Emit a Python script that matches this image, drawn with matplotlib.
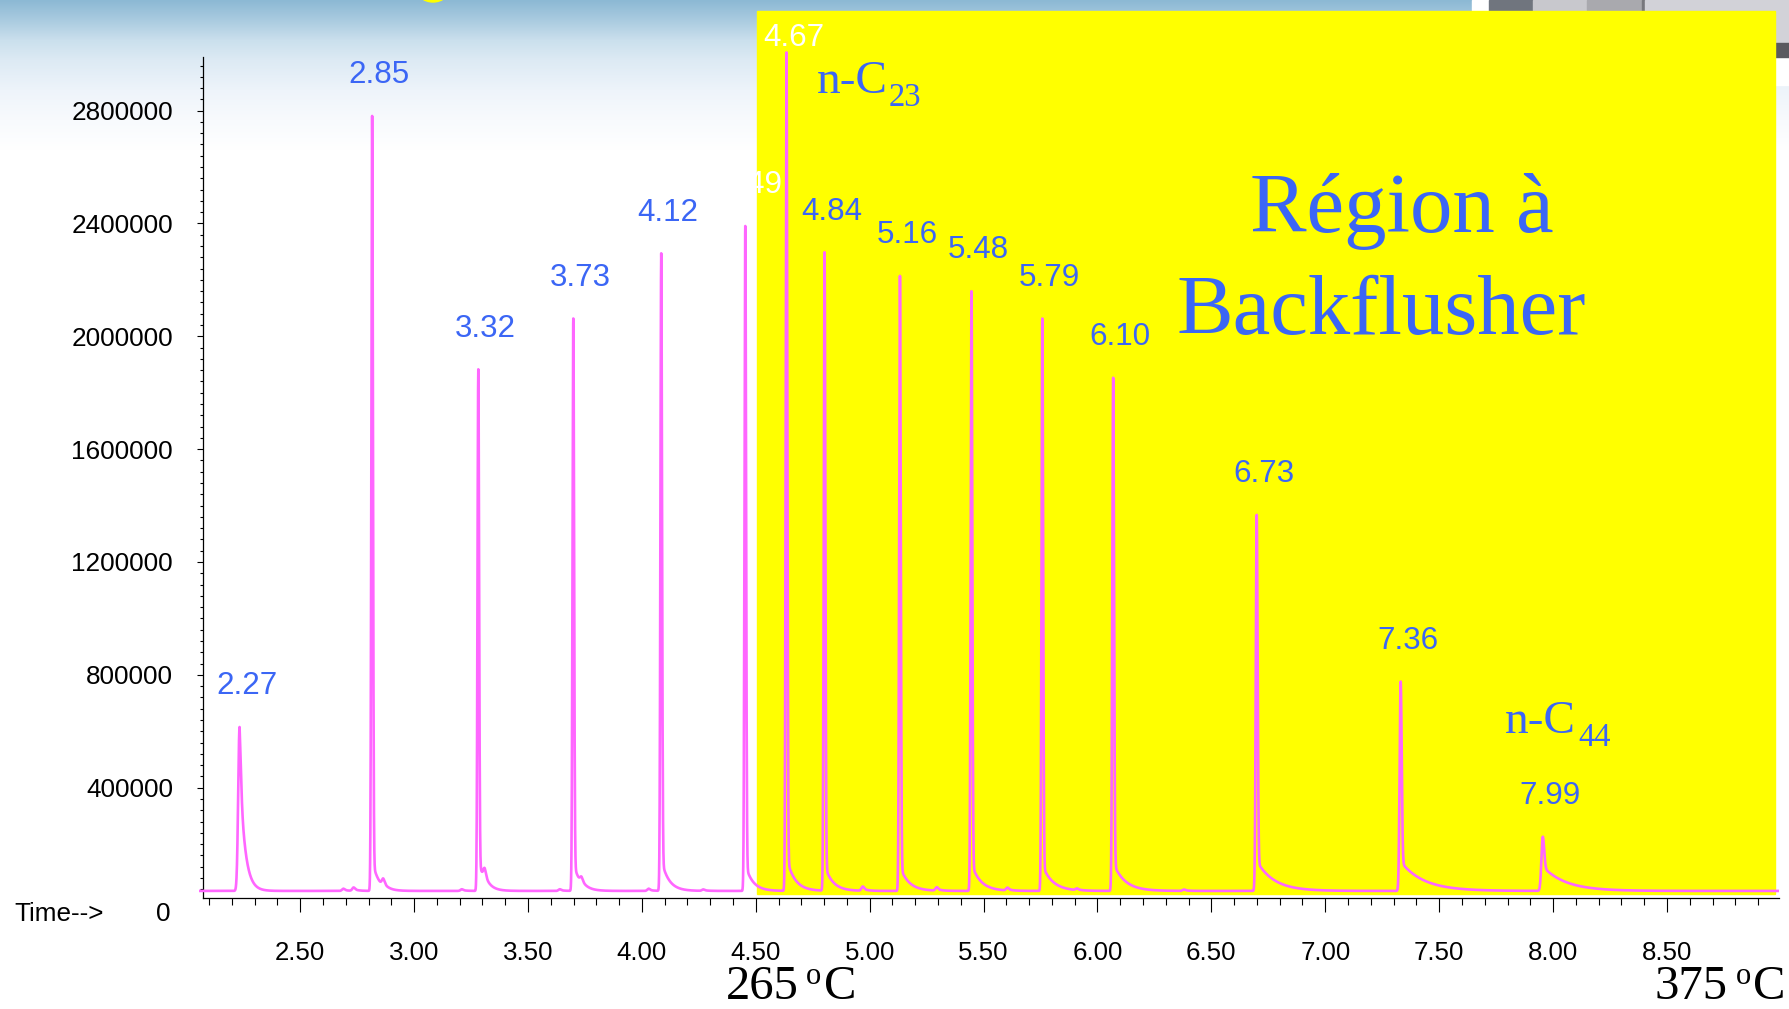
import numpy as np
import matplotlib
matplotlib.use("Agg")
import matplotlib.pyplot as plt
from matplotlib.patches import Rectangle, Ellipse

plt.rcParams['font.family'] = ['Liberation Sans', 'DejaVu Sans']

# peaks (apex position in min, apex height in counts)
peak_label = ["2.27", "2.85", "3.32", "3.73", "4.12", "4.49", "4.67", "4.84",
              "5.16", "5.48", "5.79", "6.10", "6.73", "7.36", "7.99"]
peak_pos = [2.234, 2.816, 3.282, 3.699, 4.085, 4.454, 4.635, 4.802,
            5.133, 5.447, 5.758, 6.069, 6.699, 7.331, 7.955]
peak_top = [615000, 2781000, 1883000, 2063000, 2294000, 2391000, 3006000, 2297000,
            2214000, 2160000, 2063000, 1853000, 1367000, 776000, 226000]
peak_sigma = [0.006, 0.0035, 0.0035, 0.0035, 0.0035, 0.0035, 0.0035, 0.0035,
              0.0035, 0.0035, 0.0035, 0.0038, 0.004, 0.0045, 0.006]
tail_frac = [0.8, 0.04, 0.06, 0.05, 0.05, 0.04, 0.04, 0.04,
             0.04, 0.045, 0.045, 0.055, 0.08, 0.14, 0.45]
tail_tau = [0.022, 0.028, 0.028, 0.03, 0.032, 0.032, 0.035, 0.035,
            0.038, 0.04, 0.045, 0.05, 0.075, 0.1, 0.1]
label_white = ["4.49", "4.67"]

# small bumps / shoulders on the baseline
bump_pos = [2.69, 2.735, 2.865, 3.31, 3.21, 3.64, 3.735, 4.03, 4.27, 4.97,
            5.295, 5.605, 5.91, 6.38]
bump_amp = [8000, 12000, 25000, 40000, 6000, 6000, 20000, 8000, 5000, 15000,
            12000, 10000, 6000, 5000]
baseline = 34000

W, H = 1790, 1009
fig = plt.figure(figsize=(W / 100, H / 100), dpi=100)

# slide background (pixel coordinates, y downwards)
bg = fig.add_axes([0, 0, 1, 1])
rows = np.arange(H)
stops = [0, 20, 40, 60, 90, 120, 150, H]
reds = [140, 170, 203, 221, 238, 248, 255, 255]
greens = [185, 203, 224, 234, 244, 250, 255, 255]
blues = [212, 224, 237, 244, 250, 253, 255, 255]
grad = np.stack([np.interp(rows, stops, c) for c in (reds, greens, blues)], axis=-1)
bg.imshow(grad[:, None, :] / 255, extent=(0, W, H, 0), aspect='auto', zorder=0)
bg.add_patch(Ellipse((433, -12), 34, 28, color='#ffff00', zorder=1))
# instrument photo in the corner
bg.add_patch(Rectangle((1472, 0), 318, 85, color='white', zorder=1))
bg.add_patch(Rectangle((1489, 0), 44, 57, color='#70757e', zorder=1))
bg.add_patch(Rectangle((1533, 0), 54, 57, color='#c8c8cd', zorder=1))
bg.add_patch(Rectangle((1587, 0), 55, 57, color='#a9a9ae', zorder=1))
bg.add_patch(Rectangle((1642, 0), 3, 57, color='#78787d', zorder=1))
bg.add_patch(Rectangle((1645, 0), 145, 45, color='#d2d2d8', zorder=1))
bg.add_patch(Rectangle((1775, 43), 15, 14, color='#5a5a5f', zorder=1))
# backflush region
bg.add_patch(Rectangle((757.5, 11), 1017.5, 883, color='#ffff00', zorder=2))
bg.set_xlim(0, W)
bg.set_ylim(H, 0)
bg.axis('off')

blue = '#3b66f5'
serif = ['Liberation Serif', 'DejaVu Serif']


def stext(x, y, s, size, color=blue):
    bg.text(x, y, s, fontsize=size, color=color, family=serif,
            ha='left', va='baseline', zorder=3)


bg.text(1402, 232, "Région à", fontsize=61, color=blue, family=serif,
        ha='center', va='baseline', zorder=3)
bg.text(1381, 334, "Backflusher", fontsize=61, color=blue, family=serif,
        ha='center', va='baseline', zorder=3)
stext(817, 93, "n-C", 34)
stext(889, 106.5, "23", 23.5)
stext(1505, 733, "n-C", 34)
stext(1578, 746.5, "44", 23.5)
stext(726, 999, "265", 35, 'black')
stext(806, 984, "o", 22, 'black')
stext(824, 999, "C", 35, 'black')
stext(1655, 999, "375", 35, 'black')
stext(1736, 984, "o", 22, 'black')
stext(1753, 999, "C", 35, 'black')
bg.text(14, 921, "Time-->", fontsize=18.8, ha='left', va='baseline', zorder=3)
bg.text(171, 921, "0", fontsize=18.8, ha='right', va='baseline', zorder=3)

# chromatogram
t = np.arange(2.055, 8.99, 0.0005)
signal = np.full_like(t, baseline, dtype=float)
for p, top, s, a, tau in zip(peak_pos, peak_top, peak_sigma, tail_frac, tail_tau):
    dt = t - p
    g = np.exp(-0.5 * (dt / s) ** 2)
    tail = np.where(dt >= 0, np.exp(-np.clip(dt, 0, None) / tau), 0.0)
    shape = np.where(dt < 0, g, (1 - a) * g + a * tail)
    signal += (top - baseline) * shape
for p, amp in zip(bump_pos, bump_amp):
    dt = t - p
    g = np.exp(-0.5 * (dt / 0.006) ** 2)
    tail = np.where(dt >= 0, np.exp(-np.clip(dt, 0, None) / 0.02), 0.0)
    signal += amp * np.where(dt < 0, g, 0.5 * g + 0.5 * tail)

ax = fig.add_axes([0.11106, 0.11031, 0.88257, 0.83875])
ax.set_facecolor('none')
ax.plot(t, signal, color='#ff66ff', lw=1.9, zorder=3)
ax.set_xlim(2.055, 8.99)
ax.set_ylim(10000, 3010000)

for lab, p, top in zip(peak_label, peak_pos, peak_top):
    dy = 5 if lab == "4.67" else 23.6
    ax.annotate(lab, (p, top), xytext=(5, dy), textcoords='offset points',
                ha='center', va='baseline', fontsize=22.6,
                color='white' if lab in label_white else blue, zorder=4)

for side in ('top', 'right'):
    ax.spines[side].set_visible(False)
ax.spines['left'].set_position(('data', 2.073))
ax.spines['left'].set_bounds(10000, 2990000)
ax.spines['bottom'].set_bounds(2.073, 8.99)
ax.spines['left'].set_linewidth(0.9)
ax.spines['bottom'].set_linewidth(0.9)

ax.set_xticks(np.arange(2.5, 8.51, 0.5))
ax.set_xticks(np.arange(2.1, 8.91, 0.1), minor=True)
ax.set_xticklabels(["%.2f" % v for v in np.arange(2.5, 8.51, 0.5)])
ax.set_yticks(np.arange(400000, 2800001, 400000))
ax.set_yticks(np.arange(40000, 2960001, 40000), minor=True)
ax.set_yticklabels(["%d" % v for v in np.arange(400000, 2800001, 400000)])
ax.tick_params(axis='x', which='major', direction='out', length=10, width=0.8,
               pad=21.2, labelsize=18.6)
ax.tick_params(axis='x', which='minor', direction='out', length=5, width=0.8)
ax.tick_params(axis='y', which='major', direction='out', length=4.3, width=0.8,
               pad=17.3, labelsize=18.8)
ax.tick_params(axis='y', which='minor', direction='out', length=2.2, width=0.8)

fig.savefig("out.png", dpi=100)
